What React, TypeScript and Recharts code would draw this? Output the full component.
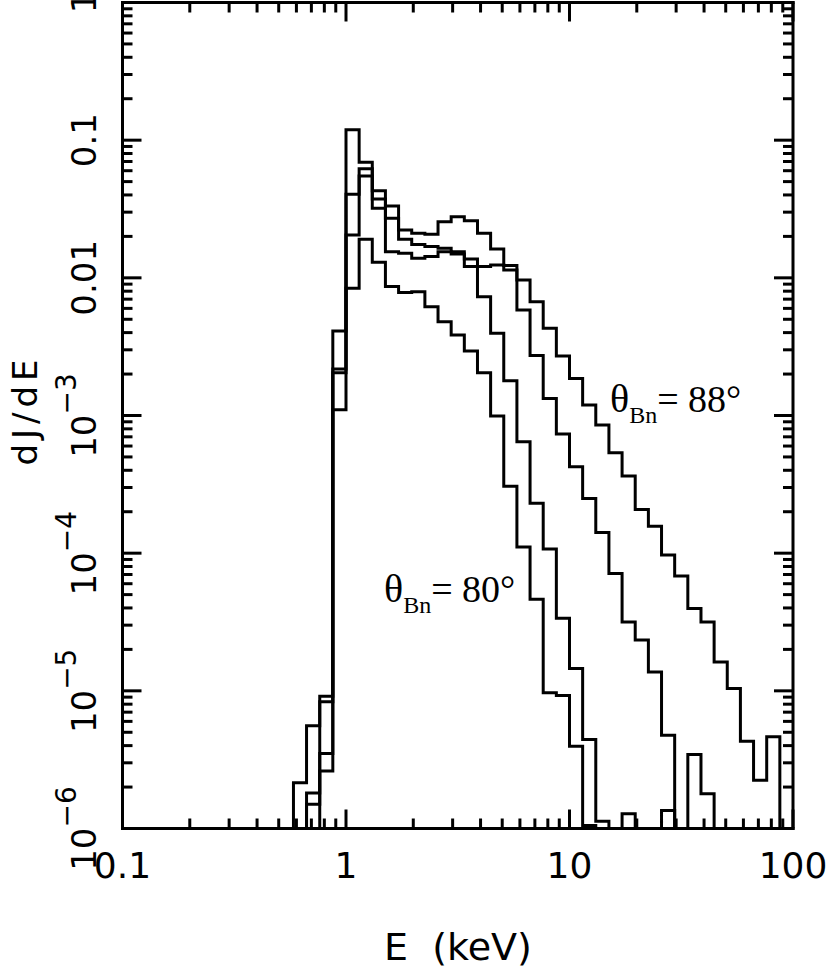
import { LineChart, Line, XAxis, YAxis } from 'recharts';

// bin edges in keV (log-spaced histogram, 17 bins per decade)
const binEdges = [
  0.508, 0.582, 0.666, 0.763, 0.873, 1, 1.145, 1.311, 1.501, 1.719, 1.968, 2.254, 2.581, 2.955,
  3.384, 3.875, 4.437, 5.08, 5.817, 6.661, 7.627, 8.733, 10, 11.45, 13.11, 15.01, 17.19, 19.68,
  22.54, 25.81, 29.55, 33.84, 38.75, 44.37, 50.8, 58.17, 66.61, 76.27, 87.33, 100,
];

// dJ/dE per bin (0 = empty bin)
const theta88 = [
  0, 2.15e-6, 5.57e-6, 9.15e-6, 4.11e-3, 0.119, 0.0692, 0.043, 0.0333, 0.0223, 0.0211, 0.0207,
  0.0256, 0.0278, 0.026, 0.0211, 0.0162, 0.0123, 9.65e-3, 6.71e-3, 4.3e-3, 2.71e-3, 1.86e-3,
  1.19e-3, 8.53e-4, 5.37e-4, 3.63e-4, 2.08e-4, 1.57e-4, 9.68e-5, 6.82e-5, 3.97e-5, 3.16e-5,
  1.62e-5, 1.04e-5, 4.31e-6, 2.24e-6, 4.63e-6, 0,
];
const theta85 = [
  0, 0, 1.81e-6, 8.32e-6, 2.18e-3, 0.0405, 0.0619, 0.0374, 0.0271, 0.0191, 0.0175, 0.0169, 0.0164,
  0.0155, 0.0137, 0.0121, 0.0124, 0.0114, 5.84e-3, 2.73e-3, 1.33e-3, 7.34e-4, 4.25e-4, 2.5e-4,
  1.41e-4, 7.13e-5, 3.16e-5, 2.34e-5, 1.37e-5, 4.76e-6, 0, 3.45e-6, 1.79e-6, 0, 0, 0, 0, 0, 0,
];
const theta83 = [
  0, 0, 1.5e-6, 3.51e-6, 2.04e-3, 0.0205, 0.055, 0.032, 0.0155, 0.0151, 0.0139, 0.0143, 0.0155,
  0.0149, 0.0121, 7.3e-3, 3.96e-3, 1.79e-3, 6.45e-4, 2.3e-4, 1.07e-4, 3.36e-5, 1.45e-5, 4.43e-6,
  1.13e-6, 0, 1.28e-6, 0, 0, 1.35e-6, 0, 0, 0, 0, 0, 0, 0, 0, 0,
];
const theta80 = [
  0, 0, 0, 2.62e-6, 1.1e-3, 8.4e-3, 0.0191, 0.013, 8.66e-3, 7.81e-3, 7.92e-3, 6.17e-3, 4.8e-3,
  3.85e-3, 2.94e-3, 2.04e-3, 9.92e-4, 3.06e-4, 1.11e-4, 4.62e-5, 9.67e-6, 9.23e-6, 3.96e-6,
  1.05e-6, 0, 0, 0, 0, 0, 0, 0, 0, 0, 0, 0, 0, 0, 0, 0,
];

const xMajor = [0.1, 1, 10, 100];
const xLabels = ['0.1', '1', '10', '100'];
const xMinor = [
  0.2, 0.3, 0.4, 0.5, 0.6, 0.7, 0.8, 0.9, 2, 3, 4, 5, 6, 7, 8, 9, 20, 30, 40, 50, 60, 70, 80, 90,
];
const yMajor = [1e-6, 1e-5, 1e-4, 1e-3, 0.01, 0.1, 1];
const yLabelMain = ['10', '10', '10', '10', '0.01', '0.1', '1'];
const yLabelExp = ['−6', '−5', '−4', '−3', '', '', ''];
const yMinor = [
  2e-6, 3e-6, 4e-6, 5e-6, 6e-6, 7e-6, 8e-6, 9e-6, 2e-5, 3e-5, 4e-5, 5e-5, 6e-5, 7e-5, 8e-5, 9e-5,
  2e-4, 3e-4, 4e-4, 5e-4, 6e-4, 7e-4, 8e-4, 9e-4, 2e-3, 3e-3, 4e-3, 5e-3, 6e-3, 7e-3, 8e-3, 9e-3,
  0.02, 0.03, 0.04, 0.05, 0.06, 0.07, 0.08, 0.09, 0.2, 0.3, 0.4, 0.5, 0.6, 0.7, 0.8, 0.9,
];

const FLOOR = 1e-6;
const SANS = 'DejaVu Sans';
const SERIF = 'Liberation Serif';

const pick = (arr: number[], i: number) => (i < arr.length && arr[i] > 0 ? arr[i] : FLOOR);
const rows = binEdges.map((e, i) => ({
  e,
  a: pick(theta88, i),
  b: pick(theta85, i),
  c: pick(theta83, i),
  d: pick(theta80, i),
}));

const xTicks = [...xMajor, ...xMinor].sort((p, q) => p - q);
const yTicks = [...yMajor, ...yMinor].sort((p, q) => p - q);

const BottomTick = ({ x, y, payload }: any) => {
  const i = xMajor.indexOf(payload.value);
  const len = i >= 0 ? 19 : 10;
  return (
    <g>
      <line x1={x} y1={y} x2={x} y2={y - len} stroke="#000" strokeWidth={3} />
      {i >= 0 && (
        <text x={x} y={y + 49.5} textAnchor="middle" fontSize={36} fontFamily={SANS} fill="#000">
          {xLabels[i]}
        </text>
      )}
    </g>
  );
};

const TopTick = ({ x, y, payload }: any) => {
  const len = xMajor.includes(payload.value) ? 19 : 10;
  return <line x1={x} y1={y} x2={x} y2={y + len} stroke="#000" strokeWidth={3} />;
};

const LeftTick = ({ x, y, payload }: any) => {
  const i = yMajor.indexOf(payload.value);
  const len = i >= 0 ? 19 : 10;
  const bx = x - 26.5;
  return (
    <g>
      <line x1={x} y1={y} x2={x + len} y2={y} stroke="#000" strokeWidth={3} />
      {i >= 0 && (
        <text
          x={bx}
          y={y}
          transform={`rotate(-90, ${bx}, ${y})`}
          textAnchor="middle"
          fontSize={34}
          fontFamily={SANS}
          fill="#000"
        >
          {yLabelMain[i]}
          {yLabelExp[i] && (
            <tspan fontSize={28} dy={-20}>
              {yLabelExp[i]}
            </tspan>
          )}
        </text>
      )}
    </g>
  );
};

const RightTick = ({ x, y, payload }: any) => {
  const len = yMajor.includes(payload.value) ? 19 : 10;
  return <line x1={x} y1={y} x2={x - len} y2={y} stroke="#000" strokeWidth={3} />;
};

const axisLine = { stroke: '#000', strokeWidth: 3, strokeLinecap: 'square' as const };

export default function App() {
  return (
    <div style={{ position: 'absolute', left: 0, top: 0, width: 829, height: 970, background: '#fff' }}>
      <LineChart
        width={829}
        height={970}
        data={rows}
        margin={{ top: 0.5, right: 26, bottom: 81.5, left: 22.5 }}
      >
        <XAxis
          xAxisId="b"
          dataKey="e"
          type="number"
          scale="log"
          domain={[0.1, 100]}
          allowDataOverflow
          ticks={xTicks}
          interval={0}
          height={60}
          tickSize={0}
          tickMargin={0}
          tickLine={false}
          axisLine={axisLine}
          tick={<BottomTick />}
        />
        <XAxis
          xAxisId="t"
          orientation="top"
          dataKey="e"
          type="number"
          scale="log"
          domain={[0.1, 100]}
          allowDataOverflow
          ticks={xTicks}
          interval={0}
          height={2}
          tickSize={0}
          tickMargin={0}
          tickLine={false}
          axisLine={axisLine}
          tick={<TopTick />}
        />
        <YAxis
          yAxisId="l"
          type="number"
          scale="log"
          domain={[1e-6, 1]}
          allowDataOverflow
          ticks={yTicks}
          interval={0}
          width={100}
          tickSize={0}
          tickMargin={0}
          tickLine={false}
          axisLine={axisLine}
          tick={<LeftTick />}
        />
        <YAxis
          yAxisId="r"
          orientation="right"
          type="number"
          scale="log"
          domain={[1e-6, 1]}
          allowDataOverflow
          ticks={yTicks}
          interval={0}
          width={10}
          tickSize={0}
          tickMargin={0}
          tickLine={false}
          axisLine={axisLine}
          tick={<RightTick />}
        />
        {['a', 'b', 'c', 'd'].map((k) => (
          <Line
            key={k}
            xAxisId="b"
            yAxisId="l"
            dataKey={k}
            type="stepAfter"
            stroke="#000"
            strokeWidth={3}
            dot={false}
            activeDot={false}
            isAnimationActive={false}
          />
        ))}
      </LineChart>
      <svg
        width={829}
        height={970}
        style={{ position: 'absolute', left: 0, top: 0, pointerEvents: 'none' }}
      >
        <text x={458} y={960} textAnchor="middle" fontSize={38} fontFamily={SANS} style={{ whiteSpace: 'pre' }}>
          {'E  (keV)'}
        </text>
        <text
          x={37}
          y={410}
          transform="rotate(-90, 37, 410)"
          textAnchor="middle"
          fontSize={34}
          letterSpacing={5}
          fontFamily={SANS}
        >
          dJ/dE
        </text>
        <text x={610} y={411.7} fontFamily={SERIF} fill="#000">
          <tspan fontSize={40}>θ</tspan>
          <tspan fontSize={24} dy={11.6}>Bn</tspan>
          <tspan fontSize={38} dy={-11.6}>= 88°</tspan>
        </text>
        <text x={384} y={601.7} fontFamily={SERIF} fill="#000">
          <tspan fontSize={40}>θ</tspan>
          <tspan fontSize={24} dy={11.6}>Bn</tspan>
          <tspan fontSize={38} dy={-11.6}>= 80°</tspan>
        </text>
      </svg>
    </div>
  );
}
